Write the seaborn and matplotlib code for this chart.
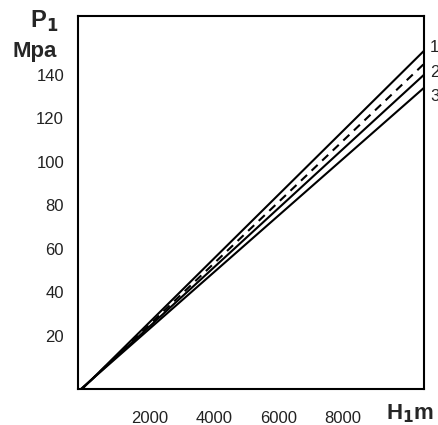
import pandas as pd
import numpy as np
import seaborn as sns
import matplotlib.pyplot as plt
import matplotlib.transforms as mtrans

# values (line ends at the left and right edge of the plot)
H_m = [-400, 10330]
line1 = [-5.8, 151]
line_dashed = [-5.6, 145]
line2 = [-5.4, 140]
line3 = [-5.2, 134]
curve_labels = ["1", "2", "3"]
x_ticks = [2000, 4000, 6000, 8000]
y_ticks = [20, 40, 60, 80, 100, 120, 140]

sns.set_style("white")
plt.rcParams['font.family'] = ['Liberation Sans', 'DejaVu Sans']

df = pd.DataFrame({
    "H": H_m * 4,
    "P": line1 + line_dashed + line2 + line3,
    "curve": ["a"] * 2 + ["b"] * 2 + ["c"] * 2 + ["d"] * 2,
})

fig = plt.figure(figsize=(4.39, 4.25), dpi=100)
ax = fig.add_axes([0.1777, 0.0847, 0.7881, 0.8777])

sns.lineplot(data=df, x="H", y="P", hue="curve", style="curve",
             palette=["black"] * 4,
             dashes={"a": "", "b": (4, 3), "c": "", "d": ""},
             linewidth=1.5, legend=False, ax=ax)

ax.set_xlim(-430, 10330)
ax.set_ylim(-4.4, 167)
ax.set_xticks(x_ticks)
ax.set_yticks(y_ticks)
ax.tick_params(axis="both", direction="in", length=8, width=1, color="black",
               labelsize=12, labelcolor="#222222")
ax.tick_params(axis="x", pad=16)
ax.tick_params(axis="y", pad=10)
# x labels sit a little left of their ticks in the original
shift = mtrans.ScaledTranslation(-6 / 100, 0, fig.dpi_scale_trans)
for lab in ax.get_xticklabels():
    lab.set_transform(lab.get_transform() + shift)
ax.set_xlabel("")
ax.set_ylabel("")
for s in ax.spines.values():
    s.set_color("black")
    s.set_linewidth(1.5)

fig.text(0.100, 0.950, "P$_\\mathbf{1}$", fontsize=17, fontweight="bold", ha="center", va="center")
fig.text(0.080, 0.880, "Mpa", fontsize=16, fontweight="bold", ha="center", va="center")
fig.text(0.935, 0.026, "H$_\\mathbf{1}$m", fontsize=16, fontweight="bold", ha="center", va="center")

for lbl, yy in zip(curve_labels, [0.889, 0.830, 0.772]):
    fig.text(0.980, yy, lbl, fontsize=12, ha="left", va="center", color="#222222")

fig.savefig("out.png", dpi=100)
